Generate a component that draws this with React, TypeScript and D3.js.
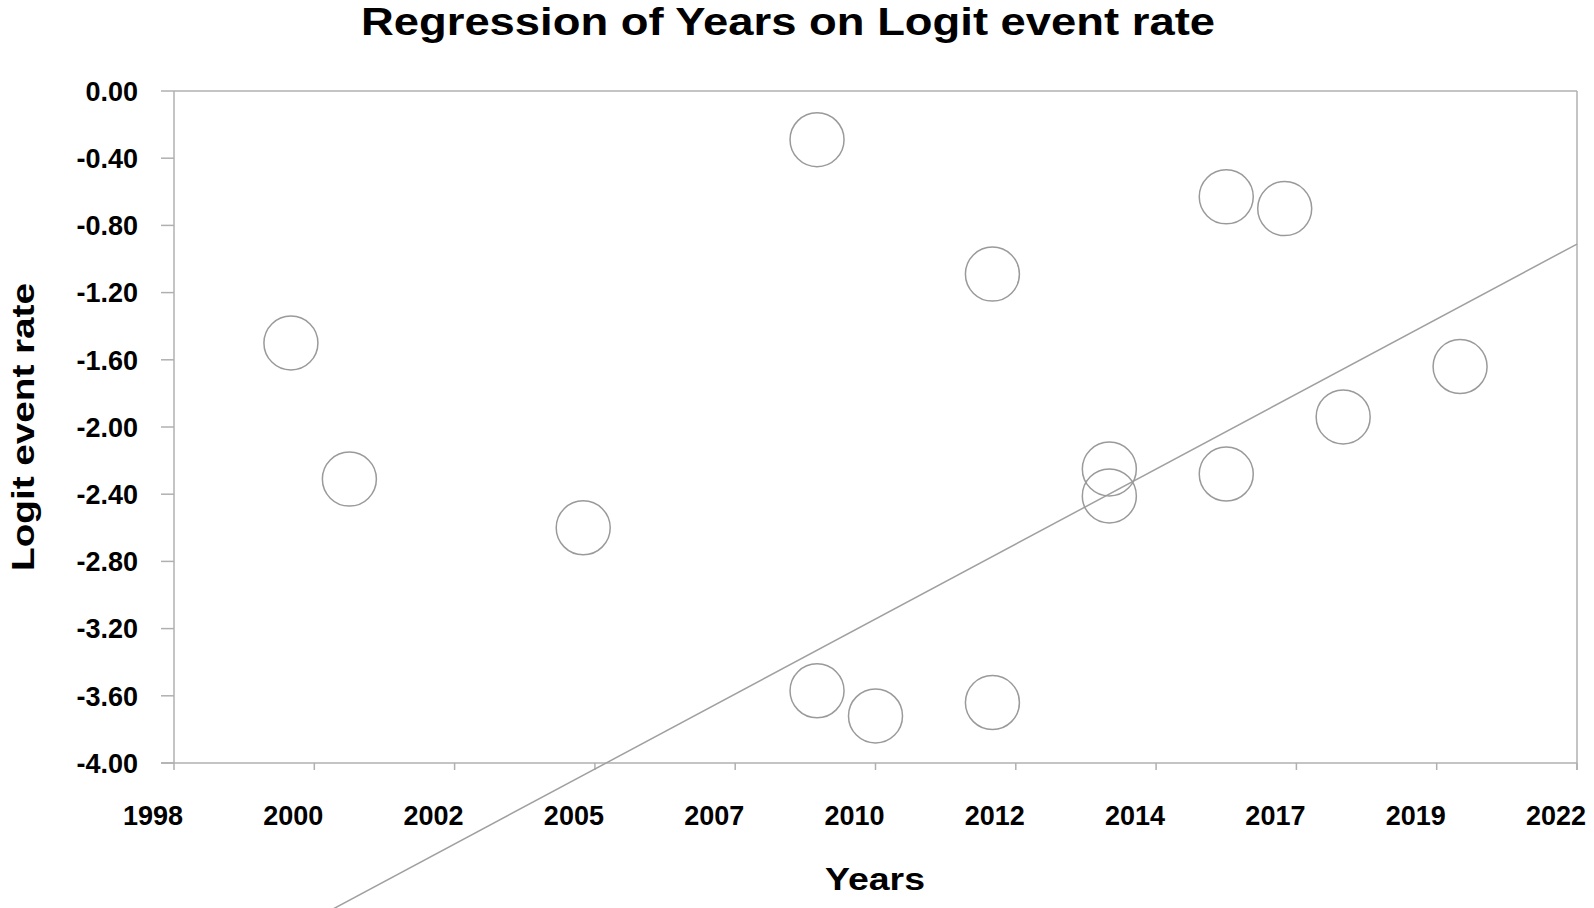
import React from "react";
import * as d3 from "d3";

const years = [2000.0, 2001.0, 2005.0, 2009.0, 2009.0, 2010.0, 2012.0, 2012.0, 2014.0, 2014.0, 2016.0, 2016.0, 2017.0, 2018.0, 2020.0];
const logits = [-1.50, -2.31, -2.60, -0.29, -3.57, -3.72, -1.09, -3.64, -2.25, -2.41, -0.63, -2.28, -0.70, -1.94, -1.64];

const xTickLabels = ["1998", "2000", "2002", "2005", "2007", "2010", "2012", "2014", "2017", "2019", "2022"];
const yTickValues = [0, -0.4, -0.8, -1.2, -1.6, -2.0, -2.4, -2.8, -3.2, -3.6, -4.0];

const regSlope = 0.186;
const regAt2022 = -0.911;

const W = 1594;
const H = 908;
const left = 174;
const right = 1577;
const top = 91;
const bottom = 763;

export default function App() {
  const x = d3.scaleLinear().domain([1998, 2022]).range([left, right]);
  const y = d3.scaleLinear().domain([-4, 0]).range([bottom, top]);
  const xTicks = xTickLabels.map((_, i) => 1998 + (24 / (xTickLabels.length - 1)) * i);
  const reg = (t: number) => regAt2022 + regSlope * (t - 2022);
  const line = d3.line<number>().x((t) => x(t)).y((t) => y(reg(t)));
  const axisColor = "#b0b0b0";
  const font = "'Liberation Sans', Arial, sans-serif";

  return (
    <svg width={W} height={H} style={{ position: "absolute", left: 0, top: 0, background: "#fff" }} fontFamily={font}>
      <rect x={0} y={0} width={W} height={H} fill="#fff" />
      <text x={788} y={35} textAnchor="middle" fontSize={38} fontWeight="bold" textLength={854} lengthAdjust="spacingAndGlyphs">
        Regression of Years on Logit event rate
      </text>
      {/* frame */}
      <line x1={left} x2={right} y1={top} y2={top} stroke={axisColor} strokeWidth={1.5} />
      <line x1={right} x2={right} y1={top} y2={bottom + 7} stroke={axisColor} strokeWidth={1.5} />
      <line x1={left} x2={left} y1={top} y2={bottom} stroke={axisColor} strokeWidth={1.5} />
      <line x1={left - 13} x2={right} y1={bottom} y2={bottom} stroke={axisColor} strokeWidth={1.5} />
      {yTickValues.map((v, i) => (
        <g key={"y" + i}>
          <line x1={left - 13} x2={left} y1={y(v)} y2={y(v)} stroke={axisColor} strokeWidth={1.5} />
          <text x={138} y={y(v)} dy="0.36em" textAnchor="end" fontSize={27} fontWeight="bold">
            {v.toFixed(2)}
          </text>
        </g>
      ))}
      {xTicks.map((t, i) => (
        <g key={"x" + i}>
          <line x1={x(t)} x2={x(t)} y1={bottom} y2={bottom + 7} stroke={axisColor} strokeWidth={1.5} />
          <text x={x(t) - 21} y={825} textAnchor="middle" fontSize={27} fontWeight="bold">
            {xTickLabels[i]}
          </text>
        </g>
      ))}
      <text x={875} y={890} textAnchor="middle" fontSize={31} fontWeight="bold" textLength={100} lengthAdjust="spacingAndGlyphs">
        Years
      </text>
      <text transform={`translate(34,427) rotate(-90)`} textAnchor="middle" fontSize={32} fontWeight="bold" textLength={288} lengthAdjust="spacingAndGlyphs">
        Logit event rate
      </text>
      <path d={line([1998, 2022]) || ""} fill="none" stroke="#a0a0a0" strokeWidth={1.5} />
      {years.map((yr, i) => (
        <circle key={"c" + i} cx={x(yr)} cy={y(logits[i])} r={27} fill="none" stroke="#9a9a9a" strokeWidth={1.5} />
      ))}
    </svg>
  );
}
